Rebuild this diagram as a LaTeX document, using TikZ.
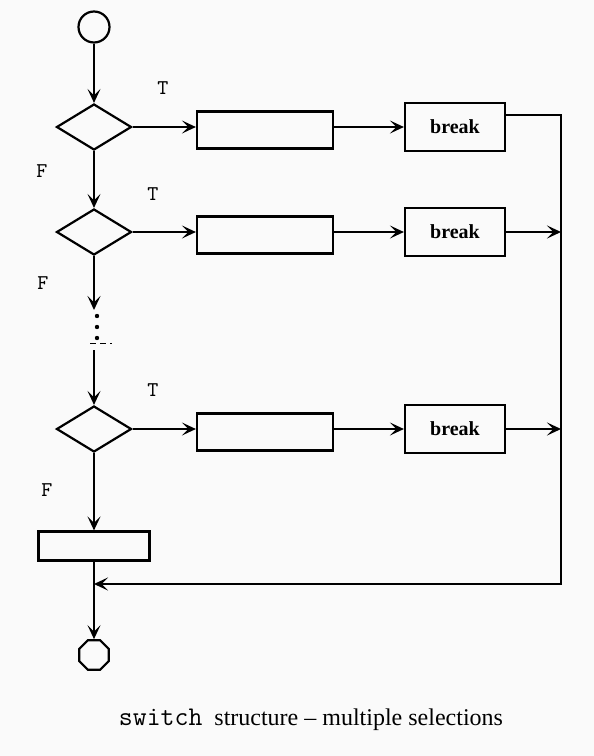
\documentclass[tikz,border=0pt]{standalone}
\usepackage{fontspec}
\setmainfont{Liberation Serif}
\usetikzlibrary{arrows.meta, shapes.geometric, calc}

\begin{document}
\begin{tikzpicture}[x=0.5pt, y=-0.5pt, line width=1.1pt,
    term/.style={draw, circle, minimum size=15.5pt, inner sep=0pt},
    stopnode/.style={draw, regular polygon, regular polygon sides=8, minimum size=16pt, inner sep=0pt},
    decision/.style={draw, diamond, minimum width=37.5pt, minimum height=23pt, inner sep=0pt},
    action/.style={draw, rectangle, minimum width=68pt, minimum height=18.5pt, inner sep=0pt},
    brk/.style={draw, rectangle, minimum width=50pt, minimum height=24pt, inner sep=0pt, font=\fontsize{10}{12}\selectfont\bfseries},
    tf/.style={font=\fontsize{10.5}{11}\selectfont\ttfamily}]
        \tikzset{>={Stealth[length=7pt, width=6.5pt, inset=3.2pt]}}
        
        % Page area
        \fill[gray!4] (0,0) rectangle (594,756);
        \useasboundingbox (0,0) rectangle (594,756);
        
        % Start, default action and end
        \node[term] (start) at (94,27) {};
        \node[action, minimum width=55.5pt, minimum height=14.5pt] (last) at (94,546) {};
        \node[stopnode] (end) at (94,655) {};
        
        % The three cases
        \foreach \i/\y in {1/127, 2/232, 3/429} {
          \node[decision] (d\i) at (94,\y) {};
          \node[action] (a\i) at (265,\y+3) {};
          \node[brk] (b\i) at (455,\y) {break};
          \draw[->] (d\i.east) -- (d\i.east -| a\i.west);
          \draw[->] (a\i.east |- d\i.east) -- (d\i.east -| b\i.west);
        }
        
        % Labels
        \node[tf] (t1) at (163,88) {T};
        \node[tf] (f1) at (42,171) {F};
        \node[tf] (t2) at (153,194) {T};
        \node[tf] (f2) at (43,283) {F};
        \node[tf] (t3) at (153,390) {T};
        \node[tf] (f3) at (47,490) {F};
        
        % Down the left side
        \coordinate (gtop) at (94,310);
        \coordinate (gbot) at (94,350);
        \draw[->] (start) -- (d1);
        \draw[->] (d1) -- (d2);
        \draw[->] (d2) -- (gtop);
        \foreach \yy in {316,327,338} {
          \fill (97,\yy) circle (1.1pt);
        }
        \draw[densely dashed, line width=0.4pt] (90,343) -- (112,343);
        \draw[->] (gbot) -- (d3);
        \draw[->] (d3) -- (last);
        \draw[->] (last) -- (end);
        
        % Return line on the right
        \coordinate (rtop) at (561,115);
        \coordinate (rbot) at (561,584);
        \draw[->] (b1.east |- rtop) -- (rtop) -- (rbot) -- (rbot -| end);
        \draw[->] (b2.east) -- (b2.east -| rtop);
        \draw[->] (b3.east) -- (b3.east -| rtop);
        
        % Caption
        \node (caption) at (311,720) {\fontsize{12}{14}\selectfont{\fontsize{13.5}{14}\selectfont\texttt{switch}}\ \ structure -- multiple selections};
    \end{tikzpicture}
\end{document}
